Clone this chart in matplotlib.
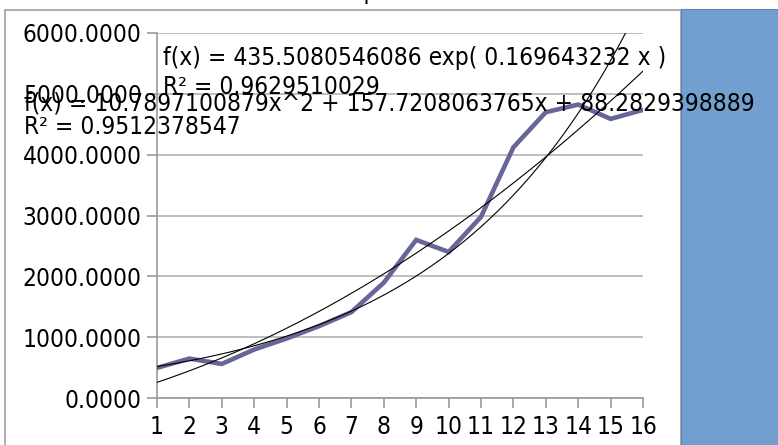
import numpy as np
import matplotlib
matplotlib.use("Agg")
import matplotlib.pyplot as plt
from matplotlib.patches import Rectangle

# ---- data ----
x_vals = [1, 2, 3, 4, 5, 6, 7, 8, 9, 10, 11, 12, 13, 14, 15, 16]
y_vals = [495, 648, 560, 797, 978, 1181, 1412, 1896, 2599, 2401, 2978, 4121, 4698, 4824, 4588, 4736]
exp_coef = [435.5080546086, 0.169643232]
poly_coef = [10.7897100879, 157.7208063765, 88.2829398889]
y_ticks = [0, 1000, 2000, 3000, 4000, 5000, 6000]
exp_label = "f(x) = 435.5080546086 exp( 0.169643232 x )"
exp_r2 = "R² = 0.9629510029"
poly_label = "f(x) = 10.7897100879x^2 + 157.7208063765x + 88.2829398889"
poly_r2 = "R² = 0.9512378547"
title_text = "Graph"

W, H = 778, 445
plt.rcParams['font.family'] = ['DejaVu Sans']
FS = 17.6
fkw = dict(family='DejaVu Sans', stretch='condensed', size=FS)

fig = plt.figure(figsize=(W / 100, H / 100), dpi=100)
fig.patch.set_facecolor('white')

def fx(px):
    return px / W

def fy(py):
    return 1 - py / H

# outer frame and blue block
fig.patches.append(Rectangle((fx(5), fy(H + 5)), fx(681) - fx(5), fy(9.5) - fy(H + 5),
                             transform=fig.transFigure, fill=False, edgecolor='#a0a0a0', lw=1.2))
fig.patches.append(Rectangle((fx(681), 0), 1 - fx(681), fy(9) - 0,
                             transform=fig.transFigure, facecolor='#729fcf', edgecolor='#5b83b5', lw=0.8))

left, right, top, bottom = 157, 643, 33, 398
ax = fig.add_axes([fx(left), fy(bottom), fx(right) - fx(left), fy(top) - fy(bottom)])
ax.set_facecolor('none')
ax.set_xlim(1, 16)
ax.set_ylim(0, 6000)

grid_c = '#b3b3b3'
for v in y_ticks:
    ax.axhline(v, color=grid_c, lw=1.2, zorder=1)

ax.plot(x_vals, y_vals, color='#666699', lw=3.3, zorder=3, solid_joinstyle='miter')

xs = np.linspace(1, 16, 300)
ax.plot(xs, exp_coef[0] * np.exp(exp_coef[1] * xs), color='black', lw=0.8, zorder=4)
ax.plot(xs, np.polyval(poly_coef, xs), color='black', lw=0.8, zorder=4)

for s in ['top', 'right']:
    ax.spines[s].set_visible(False)
for s in ['left', 'bottom']:
    ax.spines[s].set_color('#999999')
    ax.spines[s].set_linewidth(1.2)

ax.set_xticks(x_vals)
ax.set_xticklabels([str(v) for v in x_vals])
ax.set_yticks(y_ticks)
ax.set_yticklabels([f"{v:.4f}" for v in y_ticks])
ax.tick_params(axis='y', length=7, width=1.2, color='#999999', pad=4)
ax.tick_params(axis='x', length=7.5, width=1.2, color='#999999', pad=5)
for lab in ax.get_xticklabels() + ax.get_yticklabels():
    lab.set_fontfamily('DejaVu Sans')
    lab.set_fontstretch('condensed')
    lab.set_fontsize(FS)

# trendline equations
fig.text(fx(163), fy(58), exp_label, va='center', ha='left', zorder=10, **fkw)
fig.text(fx(163), fy(87), exp_r2, va='center', ha='left', zorder=10, **fkw)
fig.text(fx(24), fy(103), poly_label, va='center', ha='left', zorder=10, **fkw)
fig.text(fx(24), fy(127), poly_r2, va='center', ha='left', zorder=10, **fkw)

# title, cut off at the top edge
fig.text(fx(358), fy(-0.5), title_text, va='baseline', ha='center', **fkw)

fig.savefig('out.png', dpi=100)
